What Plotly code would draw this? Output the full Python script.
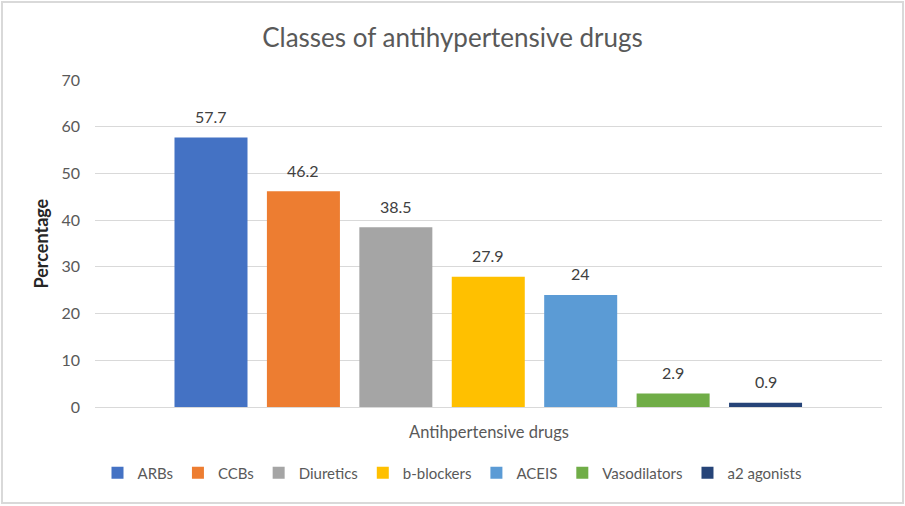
import plotly.graph_objects as go

series = ["ARBs", "CCBs", "Diuretics", "b-blockers", "ACEIS", "Vasodilators", "a2 agonists"]
values = [57.7, 46.2, 38.5, 27.9, 24, 2.9, 0.9]
labels = ["57.7", "46.2", "38.5", "27.9", "24", "2.9", "0.9"]
colors = ["#4472C4", "#ED7D31", "#A5A5A5", "#FFC000", "#5B9BD5", "#70AD47", "#264478"]

FONT = "Lato"
fig = go.Figure()
for name, v, c in zip(series, values, colors):
    fig.add_trace(go.Bar(
        name=name, x=[name], y=[v], width=0.79,
        marker=dict(color=c, line=dict(width=0)),
    ))

W, H = 905, 506
L, R, T, B = 95, 23, 80, 99
pw, ph = W - L - R, H - T - B

def px(x):
    return (x - L) / pw

def py(y):
    return (H - B - y) / ph

annotations = [
    dict(text=lab, x=name, y=v, xref="x", yref="y", yshift=21, showarrow=False,
         xanchor="center", yanchor="middle",
         font=dict(size=16, color="#404040", family=FONT))
    for name, v, lab in zip(series, values, labels)
]
annotations += [
    dict(text="Antihpertensive drugs", xref="paper", yref="paper", x=0.5, y=py(432),
         xanchor="center", yanchor="middle", showarrow=False,
         font=dict(size=16.5, color="#595959", family=FONT)),
    dict(text="<b>Percentage</b>", xref="paper", yref="paper", x=px(40), y=0.5,
         xanchor="center", yanchor="middle", showarrow=False, textangle=-90,
         font=dict(size=18, color="#262626", family=FONT)),
]

fig.update_layout(
    width=W, height=H,
    margin=dict(l=L, r=R, t=T, b=B, autoexpand=False),
    paper_bgcolor="white", plot_bgcolor="white",
    barmode="overlay",
    font=dict(family=FONT, color="#595959", size=15),
    title=dict(text="Classes of antihypertensive drugs", x=0.5, xref="container",
               y=1 - 38 / H, yanchor="middle", xanchor="center",
               font=dict(size=26, color="#595959", family=FONT)),
    showlegend=True,
    legend=dict(orientation="h", x=px(452), xanchor="center",
                y=py(473), yanchor="middle",
                font=dict(size=15, color="#595959", family=FONT),
                tracegroupgap=0),
    xaxis=dict(type="category", range=[-1.255, 7.26], showticklabels=False,
               showgrid=False, showline=True, linecolor="#D9D9D9",
               linewidth=1, ticks=""),
    yaxis=dict(range=[0, 70], dtick=10, gridcolor="#D9D9D9", gridwidth=1,
               zeroline=False, ticks="", tickfont=dict(size=16, color="#595959"),
               ticklabelstandoff=14),
    annotations=annotations,
    shapes=[dict(type="rect", xref="paper", yref="paper",
                 x0=px(2), x1=px(903), y0=py(503), y1=py(2),
                 line=dict(color="#D9D9D9", width=2), fillcolor="rgba(0,0,0,0)", layer="below")],
)

fig.write_html("out.html", config={"displayModeBar": False},
               post_script="document.body.style.margin='0';")
